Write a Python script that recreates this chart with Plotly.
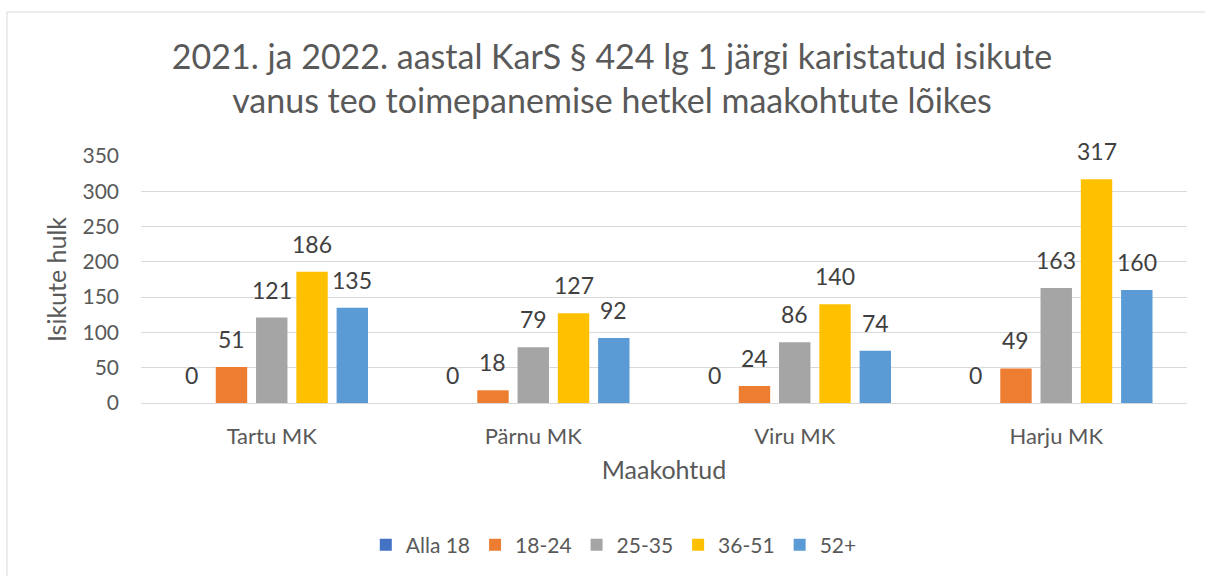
import plotly.graph_objects as go

categories = ["Tartu MK", "Pärnu MK", "Viru MK", "Harju MK"]
series_names = ["Alla 18", "18-24", "25-35", "36-51", "52+"]
alla18 = [0, 0, 0, 0]
v18_24 = [51, 18, 24, 49]
v25_35 = [121, 79, 86, 163]
v36_51 = [186, 127, 140, 317]
v52p = [135, 92, 74, 160]
colors = ["#4472C4", "#ED7D31", "#A5A5A5", "#FFC000", "#5B9BD5"]
y_ticks = [0, 50, 100, 150, 200, 250, 300, 350]

W, H = 1205, 576
L, R, T, B = 141, 18, 156, 173
FONT = "Lato, 'Open Sans', sans-serif"
BARGAP = 0.23
GROUPGAP = 0.22

all_series = [alla18, v18_24, v25_35, v36_51, v52p]
n = len(all_series)
slot = (1 - BARGAP) / n

fig = go.Figure()
for name, vals, col in zip(series_names, all_series, colors):
    fig.add_trace(go.Bar(
        x=categories, y=vals, name=name, marker_color=col,
        marker_line_width=0,
    ))

annotations = []
for k, vals in enumerate(all_series):
    off = (k - (n - 1) / 2) * slot
    for i, v in enumerate(vals):
        annotations.append(dict(
            x=i + off, y=v, xref="x", yref="y", text=str(v),
            showarrow=False, yanchor="bottom", xanchor="center", yshift=12,
            font=dict(size=23, color="#404040", family=FONT),
        ))

pw = W - L - R
ph = H - T - B
def px2x(px):
    return (px - L) / pw
def py2y(py):
    return (H - B - py) / ph

fig.update_layout(
    width=W, height=H,
    margin=dict(l=L, r=R, t=T, b=B, autoexpand=False),
    paper_bgcolor="white", plot_bgcolor="white",
    font=dict(family=FONT, color="#595959"),
    barmode="group", bargap=BARGAP, bargroupgap=GROUPGAP,
    title=dict(
        text="2021. ja 2022. aastal KarS § 424 lg 1 järgi karistatud isikute<br>vanus teo toimepanemise hetkel maakohtute lõikes",
        x=612 / W, xref="container", xanchor="center", y=1 - 69 / H, yanchor="middle",
        font=dict(size=34, color="#595959", family=FONT),
    ),
    xaxis=dict(
        showgrid=False, showline=True, linecolor="#d9d9d9", linewidth=1,
        ticks="", tickfont=dict(size=22, color="#595959"),
        ticklabelstandoff=14,
        title=dict(text="Maakohtud", font=dict(size=25, color="#595959"), standoff=13),
    ),
    yaxis=dict(
        range=[0, 350], tickvals=y_ticks, showgrid=True, gridcolor="#d9d9d9", gridwidth=1,
        zeroline=False, showline=False, ticks="", tickfont=dict(size=21, color="#595959"),
        ticklabelstandoff=21,
        title=dict(text="Isikute hulk", font=dict(size=25, color="#595959"), standoff=8),
    ),
    legend=dict(
        orientation="h", x=0.452, xanchor="center", y=py2y(545), yanchor="middle",
        font=dict(size=21, color="#595959"), traceorder="normal",
        itemwidth=30,
    ),
    annotations=annotations,
    showlegend=True,
)

fig.add_shape(type="rect", xref="paper", yref="paper",
              x0=px2x(7), x1=px2x(1215), y0=py2y(600), y1=py2y(12),
              line=dict(color="#d9d9d9", width=1), fillcolor="rgba(0,0,0,0)", layer="below")

fig.write_html("out.html", config={"displayModeBar": False},
               post_script="document.body.style.margin='0px';")
